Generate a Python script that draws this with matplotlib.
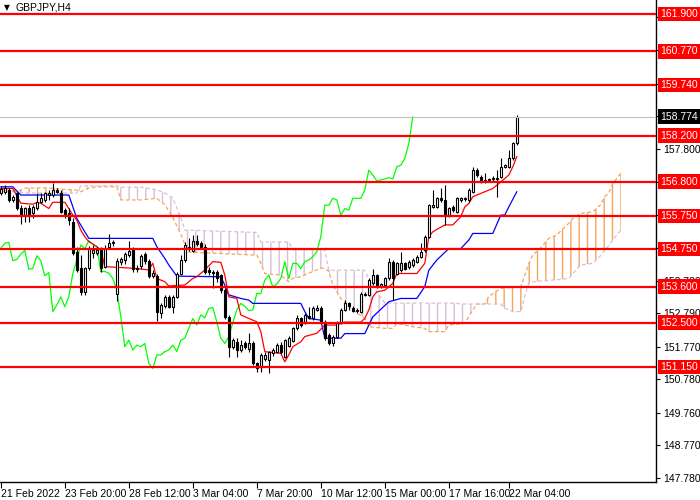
import numpy as np
import matplotlib
matplotlib.use("Agg")
import matplotlib.pyplot as plt
import matplotlib.transforms as mtransforms

plt.rcParams['font.family'] = ['Liberation Sans', 'DejaVu Sans']
plt.rcParams['hatch.linewidth'] = 1.0

# GBPJPY H4 candles, bar 0 = 21 Feb 2022
opens = [156.44, 156.47, 156.54, 156.24, 156.44, 155.98, 155.78, 155.98, 155.83, 155.98,
         156.19, 156.24, 156.39, 156.39, 156.54, 156.44, 155.93, 155.83, 155.58, 154.66,
         154.16, 153.45, 154.16, 154.61, 154.61, 154.77, 154.21, 154.80, 154.92, 153.37,
         154.35, 154.40, 154.55, 154.74, 154.18, 154.23, 154.59, 154.39, 153.93, 153.93,
         152.80, 153.00, 153.29, 152.99, 153.29, 154.00, 154.41, 154.82, 154.70, 155.00,
         154.92, 154.82, 154.10, 154.06, 154.06, 153.95, 153.50, 152.69, 151.77, 151.90,
         151.67, 151.87, 151.70, 151.87, 151.26, 151.16, 151.40, 151.37, 151.57, 151.62,
         151.82, 151.47, 151.80, 151.95, 152.33, 152.63, 152.50, 152.70, 152.63, 152.90,
         152.94, 152.53, 152.13, 151.87, 152.08, 152.50, 152.89, 153.09, 152.95, 152.87,
         152.84, 153.36, 153.36, 153.70, 153.95, 153.62, 153.65, 153.85, 154.36, 154.00,
         154.10, 154.31, 154.21, 154.26, 154.36, 154.51, 154.71, 155.12, 156.03, 156.03,
         156.29, 156.24, 155.78, 156.03, 155.88, 156.24, 156.27, 156.24, 156.49, 157.15,
         156.95, 156.82, 156.85, 156.88, 156.92, 156.95, 157.25, 157.25, 157.51, 157.96]
highs = [156.64, 156.70, 156.59, 156.39, 156.49, 156.09, 156.04, 156.09, 156.09, 156.44,
         156.44, 156.49, 156.54, 156.75, 156.59, 156.54, 155.98, 155.98, 155.68, 154.82,
         154.56, 154.21, 154.85, 154.87, 154.82, 154.82, 154.87, 155.20, 155.02, 154.46,
         154.50, 154.65, 155.00, 154.80, 154.25, 154.60, 154.65, 154.45, 154.10, 154.00,
         153.10, 153.35, 153.35, 153.35, 154.05, 154.56, 154.95, 155.07, 155.17, 155.17,
         155.00, 154.90, 154.20, 154.10, 154.10, 154.00, 153.55, 152.74, 152.05, 152.03,
         151.97, 151.95, 152.18, 151.95, 151.30, 151.57, 151.60, 151.65, 151.72, 151.87,
         151.90, 152.00, 152.10, 152.38, 152.74, 152.68, 152.80, 152.99, 153.00, 153.05,
         153.00, 152.58, 152.18, 152.13, 152.55, 152.94, 153.20, 153.14, 153.00, 152.95,
         153.45, 153.45, 153.85, 154.15, 154.00, 153.72, 153.90, 154.46, 154.40, 154.36,
         154.66, 154.36, 154.41, 154.46, 154.56, 154.92, 155.17, 156.13, 156.54, 156.34,
         156.59, 156.69, 156.03, 156.10, 156.34, 156.34, 156.34, 156.59, 157.25, 157.20,
         157.00, 157.05, 156.92, 156.97, 157.15, 157.51, 157.35, 157.76, 158.00, 158.82]
lows = [156.39, 156.42, 156.19, 156.19, 155.93, 155.50, 155.58, 155.58, 155.68, 155.93,
        156.14, 156.19, 156.24, 156.34, 156.44, 155.83, 155.68, 155.48, 154.56, 154.06,
        153.35, 153.35, 154.11, 154.46, 154.56, 154.05, 154.16, 154.77, 154.85, 153.17,
        154.25, 154.30, 154.50, 154.05, 154.05, 154.15, 154.30, 153.85, 153.85, 152.55,
        152.63, 152.95, 152.95, 152.79, 153.25, 153.95, 154.36, 154.70, 154.65, 154.85,
        154.75, 154.00, 153.95, 153.55, 153.75, 153.40, 152.60, 151.47, 151.70, 151.47,
        151.60, 151.70, 151.62, 151.20, 151.01, 151.01, 151.35, 150.96, 151.50, 151.57,
        151.55, 151.42, 151.75, 151.90, 152.28, 152.38, 152.45, 152.60, 152.58, 152.85,
        152.48, 151.98, 151.82, 151.80, 152.03, 152.45, 152.85, 152.90, 152.82, 152.80,
        152.79, 153.30, 153.30, 153.65, 153.55, 153.55, 153.60, 153.80, 153.19, 153.95,
        154.05, 154.10, 154.15, 154.21, 154.31, 154.46, 154.66, 155.07, 155.98, 155.98,
        156.19, 155.47, 155.73, 155.88, 155.83, 156.19, 156.22, 156.19, 156.44, 156.95,
        156.75, 156.75, 156.80, 156.82, 156.34, 156.90, 157.20, 157.20, 157.45, 157.90]
closes = [156.57, 156.59, 156.24, 156.34, 155.98, 155.78, 155.98, 155.78, 156.04, 156.19,
          156.31, 156.44, 156.44, 156.54, 156.49, 155.88, 155.78, 155.63, 154.61, 154.11,
          153.45, 154.16, 154.75, 154.72, 154.72, 154.16, 154.77, 154.92, 154.95, 154.39,
          154.43, 154.59, 154.70, 154.13, 154.15, 154.54, 154.39, 153.93, 154.03, 152.84,
          153.04, 153.29, 152.99, 153.29, 154.00, 154.41, 154.87, 154.75, 155.00, 154.90,
          154.82, 154.06, 154.06, 154.01, 153.85, 153.50, 152.69, 151.77, 151.97, 151.67,
          151.82, 151.77, 151.87, 151.26, 151.11, 151.52, 151.52, 151.62, 151.67, 151.82,
          151.62, 151.97, 152.03, 152.33, 152.63, 152.43, 152.74, 152.65, 152.94, 152.96,
          152.53, 152.03, 151.87, 152.08, 152.50, 152.89, 153.09, 153.00, 152.87, 152.89,
          153.39, 153.39, 153.80, 153.95, 153.59, 153.68, 153.85, 154.36, 153.85, 154.31,
          154.31, 154.15, 154.36, 154.41, 154.51, 154.66, 155.12, 156.08, 156.08, 156.29,
          156.24, 155.78, 155.98, 155.93, 156.29, 156.29, 156.29, 156.54, 157.15, 157.00,
          156.82, 156.85, 156.88, 156.92, 156.88, 157.25, 157.30, 157.51, 157.96, 158.77]

# Ichimoku lines (bar index, price)
tenkan_k = [0, 3, 5, 8, 9, 10, 12, 13, 16, 17, 18, 19, 20, 21, 22, 24, 25, 26, 33, 37, 38, 39,
            41, 42, 46, 48, 49, 51, 53, 55, 56, 57, 59, 60, 62, 64, 65, 66, 70, 71, 72, 73, 75,
            76, 79, 81, 84, 86, 90, 91, 92, 93, 94, 96, 98, 99, 104, 106, 107, 108, 111, 113,
            115, 116, 117, 118, 121, 123, 125, 127, 128, 129]
tenkan_v = [156.59, 156.59, 156.14, 156.11, 156.16, 156.14, 155.98, 156.17, 156.17, 155.98,
            155.78, 155.63, 155.32, 155.12, 154.97, 154.82, 154.72, 154.21, 154.16, 154.11,
            154.31, 153.85, 153.75, 153.62, 153.65, 153.85, 153.90, 154.11, 154.36, 154.34,
            153.95, 153.29, 153.24, 152.74, 152.63, 152.53, 152.23, 151.62, 151.57, 151.31,
            151.52, 151.77, 151.92, 152.08, 152.18, 152.43, 152.43, 152.52, 152.52, 152.63,
            152.89, 153.29, 153.44, 153.49, 153.70, 154.00, 154.00, 154.31, 155.12, 155.27,
            155.48, 155.48, 155.73, 156.03, 156.13, 156.34, 156.49, 156.59, 156.79, 157.00,
            157.25, 157.56]
kijun_k = [0, 3, 5, 17, 19, 21, 22, 38, 39, 41, 42, 44, 55, 56, 57, 60, 62, 63, 75, 76, 77,
           80, 81, 85, 86, 91, 93, 97, 100, 104, 106, 107, 109, 112, 115, 117, 118, 123, 125,
           126, 127, 129]
kijun_v = [156.64, 156.64, 156.39, 156.39, 155.68, 155.27, 155.07, 155.07, 154.82, 154.46,
           154.26, 153.92, 153.90, 153.65, 153.35, 153.24, 153.19, 153.09, 153.09, 152.84,
           152.63, 152.58, 152.03, 152.03, 152.17, 152.17, 152.68, 153.14, 153.24, 153.24,
           153.60, 154.10, 154.41, 154.76, 154.76, 155.02, 155.22, 155.22, 155.78, 155.78,
           156.03, 156.49]
cloud_k = [0, 4, 6, 11, 19, 20, 22, 24, 29, 30, 35, 39, 41, 43, 45, 46, 47, 64, 65, 66, 70,
           72, 73, 75, 78, 80, 81, 82, 83, 85, 88, 91, 92, 96, 98, 99, 103, 106, 107, 111, 112,
           116, 118, 119, 121, 122, 125, 126, 128, 130, 131, 132, 133, 135, 137, 139, 140, 142,
           143, 145, 148, 150, 151, 152, 153, 155]
span_a = [156.64, 156.49, 156.60, 156.61, 156.54, 156.49, 156.60, 156.64, 156.64, 156.24,
          156.24, 156.29, 156.10, 155.70, 155.20, 154.90, 154.65, 154.56, 154.31, 154.00,
          153.95, 153.75, 153.85, 153.90, 154.06, 154.16, 154.16, 154.06, 153.65, 153.24,
          152.89, 152.63, 152.38, 152.33, 152.33, 152.48, 152.38, 152.33, 152.23, 152.23,
          152.43, 152.48, 152.89, 153.07, 153.07, 153.30, 153.55, 153.55, 153.58, 153.60,
          153.95, 154.30, 154.56, 154.79, 155.07, 155.17, 155.30, 155.53, 155.68, 155.83,
          155.88, 156.10, 156.34, 156.45, 156.74, 157.05]
span_b = [156.50, 156.48, 156.45, 156.45, 156.45, 156.67, 156.67, 156.67, 156.67, 156.63,
          156.63, 156.55, 156.45, 156.30, 155.70, 155.32, 155.32, 155.25, 154.96, 154.96,
          154.96, 154.96, 154.72, 154.72, 154.72, 154.72, 154.72, 154.10, 154.10, 154.10,
          154.10, 154.10, 153.80, 153.10, 153.10, 153.10, 153.10, 153.10, 153.10, 153.10,
          153.10, 153.07, 153.07, 153.07, 153.07, 153.07, 153.07, 152.94, 152.84, 152.84,
          153.30, 153.70, 153.75, 153.77, 153.79, 153.81, 153.82, 153.85, 154.00, 154.26,
          154.31, 154.55, 154.71, 154.85, 155.02, 155.32]
chikou_shift = 26

levels = [161.90, 160.77, 159.74, 158.20, 156.80, 155.75, 154.75, 153.60, 152.50, 151.15]
last_price = 158.774
price_ticks = [147.78, 148.77, 149.76, 150.78, 151.77, 152.79, 153.78, 154.77, 155.79,
               156.78, 157.80, 158.79, 159.78, 160.80, 161.82]
time_ticks = [0, 16, 32, 48, 64, 80, 96, 112, 127]
time_labels = ['21 Feb 2022', '23 Feb 20:00', '28 Feb 12:00', '3 Mar 04:00', '7 Mar 20:00',
               '10 Mar 12:00', '15 Mar 00:00', '17 Mar 16:00', '22 Mar 04:00']

fig = plt.figure(figsize=(7, 5), dpi=100)
ax = fig.add_axes([0.0, 18 / 500, 656 / 700, 482 / 500])

o = np.array(opens)
h = np.array(highs)
l = np.array(lows)
c = np.array(closes)
k = np.arange(len(c))

# cloud
ka = np.array(cloud_k)
a = np.array(span_a)
b = np.array(span_b)
ax.fill_between(ka, a, b, where=a >= b, interpolate=True, facecolor='none',
                edgecolor='#F4A460', hatch='||', linewidth=0, zorder=1)
ax.fill_between(ka, a, b, where=a < b, interpolate=True, facecolor='none',
                edgecolor='#D8BFD8', hatch='||', linewidth=0, zorder=1)
ax.plot(ka, a, color='#F4A460', lw=0.9, ls=(0, (3, 2)), zorder=1.5)
ax.plot(ka, b, color='#D8BFD8', lw=0.9, ls=(0, (3, 2)), zorder=1.5)

# chikou, tenkan, kijun
ax.plot(k[chikou_shift:] - chikou_shift, c[chikou_shift:], color='#00FF00', lw=0.9, zorder=2)
ax.plot(tenkan_k, tenkan_v, color='#FF0000', lw=0.9, zorder=2.2)
ax.plot(kijun_k, kijun_v, color='#0000FF', lw=0.9, zorder=2.1)

# candles
ax.vlines(k, l, h, color='black', lw=0.8, zorder=3)
up = c >= o
ax.bar(k[up], c[up] - o[up], bottom=o[up], width=0.62, facecolor='white',
       edgecolor='black', linewidth=0.8, zorder=3.5)
ax.bar(k[~up], o[~up] - c[~up], bottom=c[~up], width=0.62, facecolor='black',
       edgecolor='black', linewidth=0.8, zorder=3.5)

# level lines
for lv in levels:
    ax.axhline(lv, color='#FF0000', lw=1.6, zorder=5)
ax.axhline(last_price, color='#C0C0C0', lw=0.8, zorder=4)

ax.set_xlim(-0.2, 163.8)
ax.set_ylim(147.65, 162.33)

# price scale: labels sitting under a level tag are hidden, as on the terminal
marks = levels + [last_price]
ax.yaxis.tick_right()
ax.set_yticks(price_ticks)
ax.set_yticklabels(['' if min(abs(p - m) for m in marks) < 0.06 else f'{p:.3f}'
                    for p in price_ticks])
ax.tick_params(axis='y', direction='out', length=3, width=0.8, labelsize=7.5, pad=2)
ax.set_xticks(time_ticks)
ax.set_xticklabels(time_labels, ha='left')
ax.tick_params(axis='x', direction='out', length=4, width=0.8, labelsize=7.5, pad=1)
for s in ['top', 'left']:
    ax.spines[s].set_visible(False)
for s in ['right', 'bottom']:
    ax.spines[s].set_linewidth(1.0)

trans = mtransforms.blended_transform_factory(ax.transAxes, ax.transData)
for lv in levels:
    ax.text(1.006, lv, f'{lv:.3f}', transform=trans, ha='left', va='center', color='white',
            fontsize=7.5, clip_on=False, zorder=10,
            bbox=dict(boxstyle='square,pad=0.22', fc='#FF0000', ec='none'))
ax.text(1.006, last_price, f'{last_price:.3f}', transform=trans, ha='left', va='center',
        color='white', fontsize=7.5, clip_on=False, zorder=10,
        bbox=dict(boxstyle='square,pad=0.22', fc='black', ec='none'))

fig.text(4 / 700, 1 - 8 / 500, '\u25bc', fontsize=5.5, va='center', ha='left',
         family='DejaVu Sans')
fig.text(15 / 700, 1 - 8 / 500, 'GBPJPY,H4', fontsize=7.5, va='center', ha='left')

fig.savefig('out.png', dpi=100)
